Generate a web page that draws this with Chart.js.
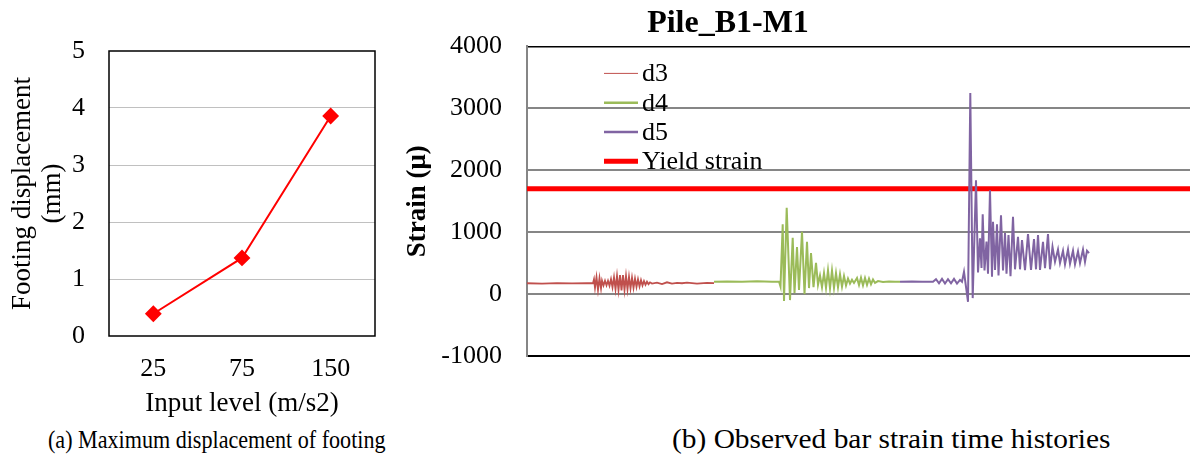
<!DOCTYPE html>
<html>
<head>
<meta charset="utf-8">
<script src="https://cdn.jsdelivr.net/npm/chart.js@4.4.1/dist/chart.umd.min.js"></script>
<style>
  html, body { margin: 0; padding: 0; background: #fff; }
  #wrap { position: relative; width: 1190px; height: 460px; overflow: hidden; background: #fff; }
  #cLeft { position: absolute; left: 0; top: 0; }
  #cRight { position: absolute; left: 266px; top: 0; pointer-events: none; }
  .cap { position: absolute; font-family: 'Liberation Serif', serif; color: #000; white-space: nowrap; transform-origin: left top; }
</style>
</head>
<body>
<div id="wrap">
  <canvas id="cLeft" width="390" height="420"></canvas>
  <canvas id="cRight" width="924" height="420"></canvas>
  <div class="cap" id="capA" style="left:48px; top:425px; font-size:26px; transform: scaleX(0.85);">(a) Maximum displacement of footing</div>
  <div class="cap" id="capB" style="left:672px; top:423px; font-size:28px; transform: scaleX(1.05);">(b) Observed bar strain time histories</div>
</div>
<script>
// ---------- Data: (a) footing displacement ----------
const inputLevels = ['25', '75', '150'];
const footingDisp = [0.39, 1.37, 3.86];

// ---------- Data: (b) strain time histories (time index, strain in micro) ----------
const d3T = [0,15,30,45,60,66,67,68,69.5,71,72.5,74,75,76.5,78,79.5,81,82.5,84,85.5,87,88.5,90,91.5,93,94.5,96,97.5,99,100.5,102,103.5,105,106.5,108,109.5,111,112.5,114,115.5,117,118.5,120,121.5,123,125,130,135,140,145,150,155,160,170,180,187];
const d3V = [175,170,178,172,176,175,240,100,275,65,260,90,220,140,215,140,215,135,240,110,270,80,295,65,305,60,306,65,295,75,280,90,265,100,250,115,240,125,225,140,210,150,200,160,190,170,185,160,190,168,182,175,185,170,182,178];

const d4T = [187,200,215,230,245,252,253.5,255.7,257,259.7,263,265.7,267.5,270,272,275,277.5,280,282,284,286.5,289,291,293,295,297,299,301,303,305,307,309,311,313,315,317,319,321,323,325,327,330,332,334,336,338,340,342,344,346,348,351,356,362,368,373];
const d4V = [200,205,198,206,200,202,120,1129,-113,1392,-97,908,16,760,65,1005,0,844,97,661,113,505,150,300,110,340,100,385,90,380,100,340,110,320,120,290,140,250,170,230,180,260,145,265,140,260,150,250,160,235,180,210,195,205,198,200];

const d5T = [373,385,395,406,409,412,415,418,421,424,427,430,433,435,437,441,443.3,445.7,449,451,453,454.5,455.7,457.5,459.5,461,463,465,466,468,470,471.5,474,476,478,479.5,481.5,483.5,486,488,491,493,495,498,501,504,507,509,511,513,516,518,521,523,525.5,528,531,533,536,538,541,543,546,548,551,553,556,558,560,562];
const d5V = [200,205,198,200,240,175,245,170,240,175,245,170,230,200,360,-124,3247,-65,1839,350,900,420,1290,380,850,330,1677,280,1167,390,1129,300,1274,380,984,330,952,290,1247,400,925,400,871,387,968,390,887,400,952,390,844,420,968,400,763,521,720,500,700,480,720,490,700,480,690,500,720,520,700,661];

const yieldT = [0, 663];
const yieldV = [1700, 1700];

const strainTicks = [-1000, 0, 1000, 2000, 3000, 4000];
const dispTicks = [0, 1, 2, 3, 4, 5];

const toXY = (t, v) => t.map((x, i) => ({ x: x, y: v[i] }));
const SERIF = "'Liberation Serif', 'Times New Roman', serif";

// ---------- Plugins ----------
const boxPlugin = {
  id: 'boxPlugin',
  afterDraw(chart, args, opts) {
    const { ctx, chartArea: a } = chart;
    ctx.save();
    ctx.strokeStyle = opts.color || '#000';
    ctx.lineWidth = opts.width || 1.5;
    ctx.strokeRect(a.left, a.top, a.right - a.left, a.bottom - a.top);
    ctx.restore();
  }
};

const innerLegend = {
  id: 'innerLegend',
  afterDraw(chart, args, opts) {
    const { ctx, chartArea: a } = chart;
    ctx.save();
    ctx.font = opts.fontSize + 'px ' + SERIF;
    ctx.textBaseline = 'middle';
    ctx.textAlign = 'left';
    ctx.fillStyle = '#000';
    chart.data.datasets.forEach((ds, i) => {
      const x = a.left + opts.left;
      const y = a.top + opts.top + i * opts.step;
      ctx.strokeStyle = ds.borderColor;
      ctx.lineWidth = opts.widths[i];
      ctx.beginPath();
      ctx.moveTo(x, y);
      ctx.lineTo(x + opts.len, y);
      ctx.stroke();
      ctx.fillText(ds.label, x + opts.len + 4, y + 1);
    });
    ctx.restore();
  }
};

// ---------- Chart (a) ----------
new Chart(document.getElementById('cLeft'), {
  type: 'line',
  data: {
    labels: inputLevels,
    datasets: [{
      data: footingDisp,
      borderColor: '#ff0000',
      backgroundColor: '#ff0000',
      borderWidth: 2,
      pointStyle: 'rectRot',
      pointRadius: 7,
      pointHoverRadius: 7,
      tension: 0,
      clip: false
    }]
  },
  options: {
    responsive: false,
    animation: false,
    devicePixelRatio: 1,
    layout: { padding: { top: 51, right: 15, bottom: 0, left: 0 } },
    plugins: { legend: { display: false }, tooltip: { enabled: false }, boxPlugin: { color: '#000', width: 1.5 } },
    scales: {
      x: {
        type: 'category',
        offset: true,
        grid: { display: false, drawTicks: false },
        border: { display: false },
        ticks: { color: '#000', font: { family: SERIF, size: 26 }, padding: 18 },
        title: { display: true, text: 'Input level (m/s2)', color: '#000', font: { family: SERIF, size: 27 }, padding: { top: 0, bottom: 0 } },
        afterFit: s => { s.height = 84; }
      },
      y: {
        min: dispTicks[0],
        max: dispTicks[dispTicks.length - 1],
        afterBuildTicks: s => { s.ticks = dispTicks.map(v => ({ value: v })); },
        grid: {
          drawTicks: false,
          color: c => (c.tick && (c.tick.value === 0 || c.tick.value === 5)) ? 'rgba(0,0,0,0)' : '#c0c0c0',
          lineWidth: 1
        },
        border: { display: false },
        ticks: { color: '#000', font: { family: SERIF, size: 26 }, padding: 24, callback: v => String(v) },
        title: { display: true, text: ['Footing displacement', '(mm)'], color: '#000', font: { family: SERIF, size: 27, lineHeight: 1.12 }, padding: { top: 8, bottom: 0 } },
        afterFit: s => { s.width = 109; }
      }
    }
  },
  plugins: [boxPlugin]
});

// ---------- Chart (b) ----------
new Chart(document.getElementById('cRight'), {
  type: 'line',
  data: {
    datasets: [
      { label: 'd3', data: toXY(d3T, d3V), borderColor: '#c0504d', borderWidth: 1.8 },
      { label: 'd4', data: toXY(d4T, d4V), borderColor: '#9bbb59', borderWidth: 2 },
      { label: 'd5', data: toXY(d5T, d5V), borderColor: '#8064a2', borderWidth: 2 },
      { label: 'Yield strain', data: toXY(yieldT, yieldV), borderColor: '#ff0000', borderWidth: 5 }
    ]
  },
  options: {
    responsive: false,
    animation: false,
    devicePixelRatio: 1,
    elements: { point: { radius: 0, hoverRadius: 0 }, line: { tension: 0 } },
    layout: { padding: { top: 0, right: 0, bottom: 64, left: 0 } },
    plugins: {
      legend: { display: false },
      tooltip: { enabled: false },
      title: {
        display: true,
        text: 'Pile_B1-M1',
        color: '#000',
        font: { family: SERIF, size: 32, weight: 'bold', lineHeight: 1.2 },
        padding: { top: 5, bottom: 3 }
      },
      innerLegend: { fontSize: 26, left: 77, top: 27, step: 29.3, len: 34, widths: [1, 2.5, 2.5, 5] }
    },
    scales: {
      x: { type: 'linear', min: 0, max: 663, display: false },
      y: {
        min: strainTicks[0],
        max: strainTicks[strainTicks.length - 1],
        afterBuildTicks: s => { s.ticks = strainTicks.map(v => ({ value: v })); },
        grid: {
          drawTicks: false,
          color: c => (c.tick && (c.tick.value === 4000 || c.tick.value === -1000)) ? '#000' : '#868686',
          lineWidth: c => (c.tick && c.tick.value === 4000) ? 1.5 : 2
        },
        border: { display: true, color: '#868686', width: 2 },
        ticks: { color: '#000', font: { family: SERIF, size: 26 }, padding: 25, callback: v => String(v) },
        title: { display: true, text: 'Strain (μ)', color: '#000', font: { family: SERIF, size: 27, weight: 'bold', lineHeight: 1.2 }, padding: { top: 136, bottom: 0 } },
        afterFit: s => { s.width = 261; }
      }
    }
  },
  plugins: [innerLegend]
});
</script>
</body>
</html>
